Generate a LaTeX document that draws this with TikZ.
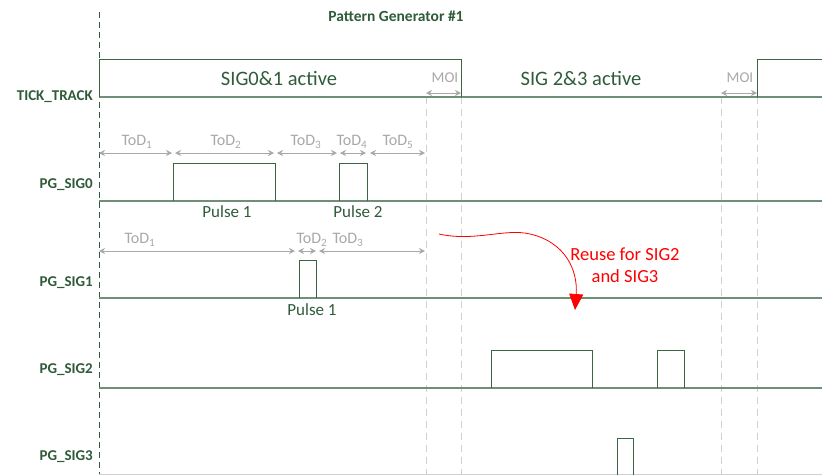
\documentclass[tikz,border=0pt]{standalone}
\usepackage{fontspec}
\setmainfont{Carlito}
\usetikzlibrary{arrows.meta}
\definecolor{dg}{HTML}{2F5B3A}
\definecolor{sig}{HTML}{3C6447}
\definecolor{base}{HTML}{6F8F78}
\definecolor{gr}{HTML}{A8A8A8}
\definecolor{grd}{HTML}{D0D0D0}
\begin{document}
\begin{tikzpicture}[x=1pt,y=-1pt,
 lbl/.style={font=\bfseries\fontsize{15}{17}\selectfont, text=dg, anchor=east, inner sep=0},
 wave/.style={draw=sig, line width=0.9pt},
 baseln/.style={draw=base, line width=1.1pt},
 guide/.style={draw=grd, dash pattern=on 7pt off 5pt, line width=0.9pt},
 leftguide/.style={draw=dg, dash pattern=on 6pt off 4pt, line width=0.8pt},
 tod/.style={draw=gr, line width=0.8pt, {Stealth[length=6pt,width=6pt]}-{Stealth[length=6pt,width=6pt]}},
 todlbl/.style={text=gr, font=\fontsize{16}{18}\selectfont, inner sep=0},
 plbl/.style={text=dg, font=\fontsize{17}{19}\selectfont, inner sep=0},
 actlbl/.style={text=dg, font=\fontsize{20.5}{23}\selectfont, inner sep=0},
 moilbl/.style={text=gr, font=\fontsize{15}{17}\selectfont, inner sep=0},
 reuse/.style={text=red, font=\fontsize{18.5}{22}\selectfont, align=center, inner sep=0},
]
\useasboundingbox (0,0) rectangle (822,475);

% title
\node[font=\bfseries\fontsize{15.5}{17}\selectfont, text=dg, inner sep=0] (title) at (396,16) {Pattern Generator \#1};

% guide lines
\coordinate (lgT) at (99,12); \coordinate (lgB) at (99,475);
\draw[leftguide] (lgT) -- (lgB);
\foreach \x/\n in {426/g1,461/g2,721/g3,757/g4}{
  \coordinate (\n T) at (\x,97); \coordinate (\n B) at (\x,475);
  \draw[guide] (\n T) -- (\n B);
}

% row labels
\node[lbl] (lTT) at (93,97) {TICK\_TRACK};
\node[lbl] (l0) at (93,185) {PG\_SIG0};
\node[lbl] (l1) at (93,283) {PG\_SIG1};
\node[lbl] (l2) at (93,370) {PG\_SIG2};
\node[lbl] (l3) at (93,457) {PG\_SIG3};

% TICK_TRACK
\draw[baseln] (99,97) -- (822,97);
\draw[wave] (99,97) -- (99,59) -- (461,59) -- (461,97);
\draw[wave] (757,97) -- (757,59) -- (822,59);
\node[actlbl] (a1) at (279,78) {SIG0\&1 active};
\node[actlbl] (a2) at (581,78) {SIG 2\&3 active};
\coordinate (m1a) at (426,93); \coordinate (m1b) at (461,93);
\coordinate (m2a) at (721,93); \coordinate (m2b) at (757,93);
\draw[tod] (m1a) -- (m1b);
\draw[tod] (m2a) -- (m2b);
\node[moilbl] (moi1) at (445,78) {MOI};
\node[moilbl] (moi2) at (740,78) {MOI};

% PG_SIG0
\draw[baseln] (99,201) -- (822,201);
\draw[wave] (173,201) -- (173,163) -- (275,163) -- (275,201);
\draw[wave] (339,201) -- (339,163) -- (367,163) -- (367,201);
\foreach \a/\b/\n in {99/172/1,175/274/2,277/337/3,340/366/4,370/425/5}{
  \coordinate (s0a\n) at (\a,153); \coordinate (s0b\n) at (\b,153);
  \draw[tod] (s0a\n) -- (s0b\n);
}
\node[todlbl] (t01) at (137,142) {ToD\textsubscript{1}};
\node[todlbl] (t02) at (226,142) {ToD\textsubscript{2}};
\node[todlbl] (t03) at (306,142) {ToD\textsubscript{3}};
\node[todlbl] (t04) at (352,142) {ToD\textsubscript{4}};
\node[todlbl] (t05) at (398,142) {ToD\textsubscript{5}};
\node[plbl] (p01) at (227,212) {Pulse 1};
\node[plbl] (p02) at (358,212) {Pulse 2};

% PG_SIG1
\draw[baseln] (99,298) -- (822,298);
\draw[wave] (299,298) -- (299,260) -- (316,260) -- (316,298);
\foreach \a/\b/\n in {99/295/1,298/316/2,319/425/3}{
  \coordinate (s1a\n) at (\a,251); \coordinate (s1b\n) at (\b,251);
  \draw[tod] (s1a\n) -- (s1b\n);
}
\node[todlbl] (t11) at (140,240) {ToD\textsubscript{1}};
\node[todlbl] (t12) at (312,240) {ToD\textsubscript{2}};
\node[todlbl] (t13) at (348,240) {ToD\textsubscript{3}};
\node[plbl] (p11) at (312,310) {Pulse 1};

% reuse arrow
\coordinate (rs) at (439,234);
\coordinate (re) at (575,310);
\draw[red, line width=0.8pt, -{Triangle[length=16pt,width=14pt]}] (rs) .. controls (475,242) and (505,228) .. (530,234) .. controls (565,242) and (578,270) .. (re);
\node[reuse] (rt) at (625,265) {Reuse for SIG2\\and SIG3};

% PG_SIG2
\draw[baseln] (99,388) -- (822,388);
\draw[wave] (491,388) -- (491,350) -- (592,350) -- (592,388);
\draw[wave] (657,388) -- (657,350) -- (684,350) -- (684,388);

% PG_SIG3
\draw[draw=grd, line width=1pt] (99,474.5) -- (822,474.5);
\draw[wave] (617,475) -- (617,438) -- (633,438) -- (633,475);
\end{tikzpicture}
\end{document}
